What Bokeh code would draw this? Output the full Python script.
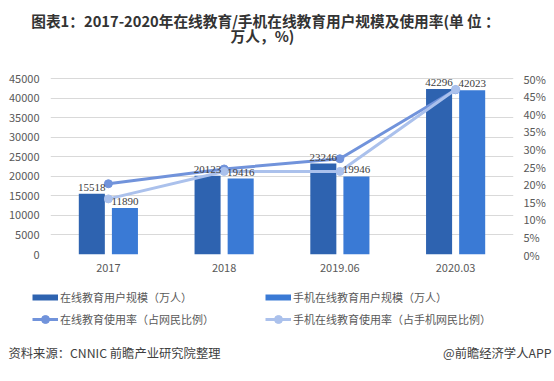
from bokeh.plotting import figure
from bokeh.layouts import column, row
from bokeh.models import (FactorRange, Range1d, LinearAxis, Legend, LegendItem, Label,
                          LabelSet, ColumnDataSource, FixedTicker, NumeralTickFormatter,
                          PrintfTickFormatter)
from bokeh.transform import dodge
from bokeh.embed import file_html
from bokeh.resources import INLINE

categories = ["2017", "2018", "2019.06", "2020.03"]
online_users = [15518, 20123, 23246, 42296]
mobile_users = [11890, 19416, 19946, 42023]
online_rate = [20.1, 24.3, 27.2, 46.8]
mobile_rate = [15.8, 23.6, 23.6, 46.9]
left_ticks = [0, 5000, 10000, 15000, 20000, 25000, 30000, 35000, 40000, 45000]
right_ticks = [0, 5, 10, 15, 20, 25, 30, 35, 40, 45, 50]

DARK = "#2E63B0"
LIGHT = "#3A7AD5"
LINE1 = "#7193DB"
LINE2 = "#ABC1EC"
FONT = "Noto Sans CJK SC"
W = 554


def blank(h):
    f = figure(width=W, height=h, x_range=Range1d(0, W), y_range=Range1d(h, 0),
               output_backend="svg", toolbar_location=None,
               min_border_left=0, min_border_right=0, min_border_top=0, min_border_bottom=0)
    f.axis.visible = False
    f.grid.visible = False
    f.outline_line_color = None
    return f


# ---------------- title ----------------
top = blank(50)
title_kw = dict(text_align="center", text_baseline="middle", text_font_size="14.7px",
                text_font_style="bold", text_color="#333333", text_font=FONT)
top.add_layout(Label(x=265, y=20, text="图表1：2017-2020年在线教育/手机在线教育用户规模及使用率(单 位 ：", **title_kw))
top.add_layout(Label(x=262, y=35, text="万人，%)", **title_kw))

# ---------------- main chart ----------------
src = ColumnDataSource(dict(cat=categories, online=online_users, mobile=mobile_users,
                            online_txt=[str(v) for v in online_users],
                            mobile_txt=[str(v) for v in mobile_users],
                            rate1=online_rate, rate2=mobile_rate))

frame_h = 194
scale = frame_h / 176.0
p = figure(x_range=FactorRange(*categories), y_range=Range1d(0, 45000 * scale),
           width=W, height=235, output_backend="svg", toolbar_location=None,
           min_border_left=50, min_border_right=41, min_border_top=10, min_border_bottom=31)
p.extra_y_ranges = {"pct": Range1d(0, 50 * scale)}
p.outline_line_color = None
p.xgrid.visible = False
p.ygrid.ticker = FixedTicker(ticks=left_ticks)
p.ygrid.grid_line_color = "#D9D9D9"

rax = LinearAxis(y_range_name="pct", ticker=FixedTicker(ticks=right_ticks),
                 formatter=PrintfTickFormatter(format="%d%%"))
p.add_layout(rax, "right")
for ax in (p.xaxis[0], p.yaxis[0], rax):
    ax.axis_line_color = None
    ax.major_tick_line_color = None
    ax.minor_tick_line_color = None
    ax.major_tick_out = 0
    ax.major_tick_in = 0
    ax.major_label_text_font_size = "11px"
    ax.major_label_text_color = "#595959"
    ax.major_label_text_font = FONT
p.yaxis[0].ticker = FixedTicker(ticks=left_ticks)
p.yaxis[0].formatter = NumeralTickFormatter(format="0")
p.yaxis[0].major_label_standoff = 11
p.xaxis[0].major_label_standoff = 9
rax.major_label_standoff = 10

off = 0.143
bw = 0.225
p.vbar(x=dodge("cat", -off, range=p.x_range), top="online", width=bw, source=src,
       fill_color=DARK, line_color=None)
p.vbar(x=dodge("cat", off, range=p.x_range), top="mobile", width=bw, source=src,
       fill_color=LIGHT, line_color=None)

p.add_layout(LabelSet(x=dodge("cat", -off, range=p.x_range), y="online", text="online_txt",
                      source=src, text_align="center", text_baseline="bottom", y_offset=3,
                      text_font_size="11px", text_color="#404040", text_font=FONT))
p.add_layout(LabelSet(x=dodge("cat", off, range=p.x_range), y="mobile", text="mobile_txt",
                      source=src, text_align="center", text_baseline="bottom", y_offset=3,
                      text_font_size="11px", text_color="#404040", text_font=FONT))

p.line(x="cat", y="rate1", y_range_name="pct", source=src, line_color=LINE1, line_width=3)
p.scatter(x="cat", y="rate1", y_range_name="pct", source=src, size=8,
          fill_color=LINE1, line_color=LINE1)
p.line(x="cat", y="rate2", y_range_name="pct", source=src, line_color=LINE2, line_width=3)
p.scatter(x="cat", y="rate2", y_range_name="pct", source=src, size=8,
          fill_color=LINE2, line_color=LINE2)

# ---------------- legend + source ----------------
bot = blank(96)
# legend proxies: kept outside the visible range so only their legend swatches show
px = [-50, -40]
py = [-50, -50]
d1 = bot.line(x=px, y=py, line_color=DARK, line_width=6)
d2 = bot.line(x=px, y=py, line_color=LIGHT, line_width=6)
l1 = bot.line(x=px, y=py, line_color=LINE1, line_width=3)
s1 = bot.scatter(x=px, y=py, size=7, fill_color=LINE1, line_color=LINE1)
l2 = bot.line(x=px, y=py, line_color=LINE2, line_width=3)
s2 = bot.scatter(x=px, y=py, size=7, fill_color=LINE2, line_color=LINE2)


def make_legend(items, loc):
    return Legend(items=items, location=loc, orientation="vertical",
                  glyph_width=26, glyph_height=20, label_height=20, label_standoff=2,
                  spacing=2, padding=0, margin=0, border_line_color=None,
                  background_fill_alpha=0, label_text_font_size="11px",
                  label_text_color="#595959", label_text_font=FONT)


bot.add_layout(make_legend([LegendItem(label="在线教育用户规模（万人）", renderers=[d1]),
                            LegendItem(label="在线教育使用率（占网民比例）", renderers=[l1, s1])],
                           (32, 52)))
bot.add_layout(make_legend([LegendItem(label="手机在线教育用户规模（万人）", renderers=[d2]),
                            LegendItem(label="手机在线教育使用率（占手机网民比例）", renderers=[l2, s2])],
                           (265, 52)))

src_kw = dict(text_baseline="middle", text_font_size="12.3px", text_color="#404040", text_font=FONT)
bot.add_layout(Label(x=8, y=67, text="资料来源：CNNIC 前瞻产业研究院整理", text_align="left", **src_kw))
bot.add_layout(Label(x=551, y=67, text="@前瞻经济学人APP", text_align="right", **src_kw))

layout = column(row(top), row(p), row(bot), spacing=0)
open("out.html", "w").write(file_html(layout, INLINE))
